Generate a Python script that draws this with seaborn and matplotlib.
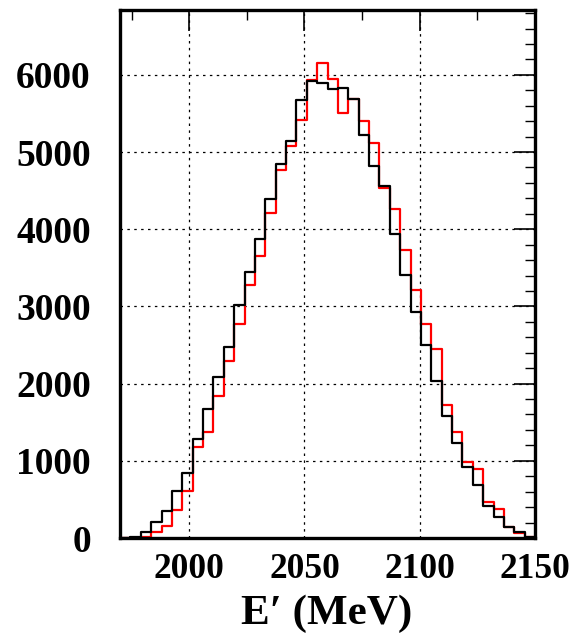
import numpy as np
import pandas as pd
import matplotlib
matplotlib.use("Agg")
import matplotlib.pyplot as plt
import seaborn as sns
from matplotlib.ticker import MultipleLocator, FixedLocator

# 40 bins, 4.5 MeV wide, from 1970 to 2150 MeV
x_min, x_max, n_bins = 1970.0, 2150.0, 40
bin_width = (x_max - x_min) / n_bins
bin_centers = x_min + bin_width * (np.arange(n_bins) + 0.5)

black_counts = [0, 17, 82, 205, 345, 605, 846, 1282, 1667, 2085,
                2474, 3014, 3446, 3873, 4387, 4845, 5147, 5680, 5922, 5896,
                5811, 5826, 5685, 5216, 4815, 4564, 3933, 3407, 2927, 2496,
                2038, 1580, 1235, 915, 690, 416, 266, 147, 82, 12]
red_counts = [0, 5, 18, 78, 160, 360, 605, 1183, 1377, 1846,
              2288, 2772, 3273, 3657, 4214, 4763, 5078, 5420, 5928, 6149,
              5950, 5512, 5686, 5399, 5113, 4530, 4262, 3735, 3214, 2768,
              2453, 1727, 1377, 984, 898, 470, 380, 147, 61, 8]

x_tick_labels = [2000, 2050, 2100, 2150]
y_tick_labels = [0, 1000, 2000, 3000, 4000, 5000, 6000]

df = pd.DataFrame({
    "E": np.concatenate([bin_centers, bin_centers]),
    "count": np.concatenate([red_counts, black_counts]).astype(float),
    "sample": ["red"] * n_bins + ["black"] * n_bins,
})

sns.set_style("white")
plt.rcParams["font.family"] = ["Liberation Serif", "DejaVu Serif"]
plt.rcParams["font.weight"] = "bold"
plt.rcParams["text.color"] = "black"
plt.rcParams["xtick.color"] = "black"
plt.rcParams["ytick.color"] = "black"
plt.rcParams["xtick.labelcolor"] = "black"
plt.rcParams["ytick.labelcolor"] = "black"

fig = plt.figure(figsize=(5.83, 6.37), dpi=100)
ax = fig.add_axes([120 / 583, 1 - 538 / 637, 415 / 583, 528 / 637])

for name, col, z in [("red", "#ff0000", 2), ("black", "#000000", 3)]:
    sub = df[df["sample"] == name].reset_index(drop=True)
    sns.histplot(data=sub, x="E", weights="count",
                 binwidth=bin_width, binrange=(x_min, x_max),
                 element="step", fill=False, color=col, linewidth=1.6,
                 ax=ax, zorder=z)

ax.set_xlim(x_min, x_max)
ax.set_ylim(0, 6840)

ax.xaxis.set_major_locator(FixedLocator(x_tick_labels))
ax.xaxis.set_minor_locator(MultipleLocator(25))
ax.yaxis.set_major_locator(FixedLocator(y_tick_labels))
ax.yaxis.set_minor_locator(MultipleLocator(200))

ax.tick_params(axis="both", which="major", direction="in", length=15, width=1.2,
               top=True, right=True, color="black", labelcolor="black")
ax.tick_params(axis="both", which="minor", direction="in", length=7.5, width=1.0,
               top=True, right=True, color="black")
ax.tick_params(axis="x", which="major", pad=11, labelsize=25.5)
ax.tick_params(axis="y", which="major", pad=21, labelsize=27)
for lab in ax.get_xticklabels() + ax.get_yticklabels():
    lab.set_fontweight("bold")

ax.grid(True, which="major", color="black", linestyle=(0, (2, 3.5)), linewidth=0.9)
ax.set_axisbelow(True)

for sp in ax.spines.values():
    sp.set_linewidth(2.4)
    sp.set_color("black")
    sp.set_visible(True)

ax.set_ylabel("")
ax.set_xlabel("")
fig.text(327 / 583, 1 - 624 / 637, "E\u2032 (MeV)", fontsize=31, fontweight="bold",
         ha="center", va="baseline", color="black")

fig.savefig("out.png", dpi=100)
